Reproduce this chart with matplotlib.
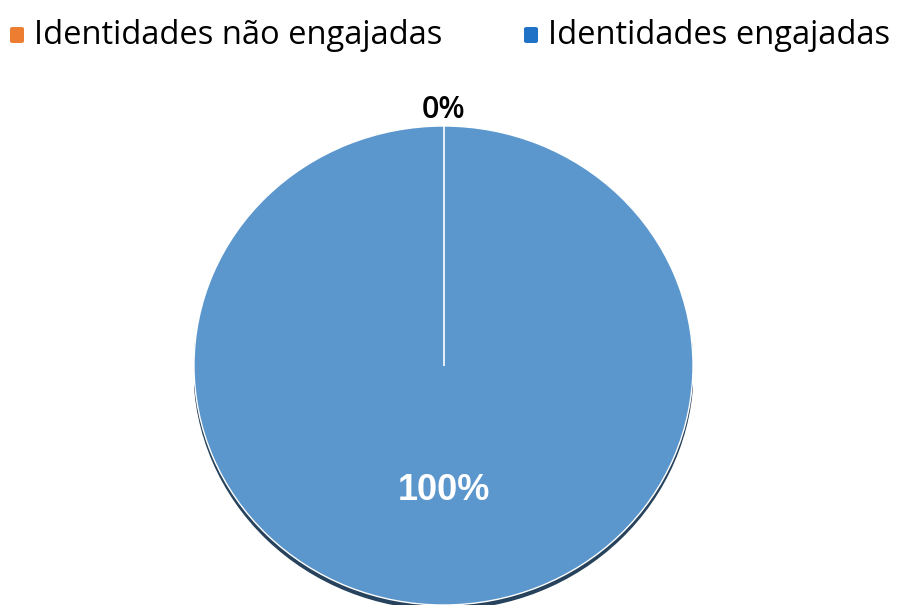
import matplotlib
matplotlib.use("Agg")
import matplotlib.pyplot as plt
import numpy as np
from matplotlib.patches import Ellipse, FancyBboxPatch

categories = ["Identidades não engajadas", "Identidades engajadas"]
values = [0, 100]
slice_colors = ["#ED7D31", "#5B97CD"]
legend_colors = ["#ED7D31", "#1F72C6"]

W, H = 898, 611
fig = plt.figure(figsize=(W / 100, H / 100), dpi=100)
cx, cy, rx, ry = 443.5, 365.5, 249.5, 239.5
ax = fig.add_axes([(cx - rx) / W, (H - cy - ry) / H, 2 * rx / W, 2 * ry / H])

# shadow
ax.add_patch(Ellipse((0, -0.018), 2.0, 2.0, color="#27425c", zorder=0))

total = sum(values)
start = 90
wedges, texts = ax.pie(values, colors=slice_colors, startangle=start, counterclock=False,
                       radius=1.0, wedgeprops=dict(edgecolor="white", linewidth=1.0),
                       normalize=True)
for w in wedges:
    w.set_zorder(1)

# wedge boundary lines (from data)
angles = start - np.cumsum([0] + values) / total * 360
for a in np.unique(np.round(angles % 360, 6)):
    t = np.deg2rad(a)
    ax.plot([0, np.cos(t)], [0, np.sin(t)], color="white", lw=1.2, zorder=2,
            solid_capstyle="butt")

ax.set_xlim(-1, 1)
ax.set_ylim(-1, 1)
ax.set_aspect("auto")
ax.axis("off")

pcts = [f"{round(v / total * 100)}%" for v in values]
fig.text(cx / W, 1 - 107 / H, pcts[0], ha="center", va="center_baseline", fontsize=22,
         fontweight="semibold", color="black", family=["Open Sans", "DejaVu Sans"],
         zorder=3)
fig.text(cx / W, 1 - 491 / H, pcts[1], ha="center", va="center", fontsize=26,
         fontweight="bold", color="white", family=["Liberation Sans", "DejaVu Sans"],
         zorder=3)

# legend
leg_pos = [(10, 36), (524, 36)]
for (lx, ly), lab, col in zip(leg_pos, categories, legend_colors):
    fig.patches.append(FancyBboxPatch(
        (lx / W, 1 - (ly + 7) / H), 14 / W, 16 / H,
        boxstyle="round,pad=0,rounding_size=0.003", transform=fig.transFigure,
        facecolor=col, edgecolor="none"))
    fig.text((lx + 24) / W, 1 - ly / H, lab, ha="left", va="center", fontsize=23.5,
             family=["Open Sans", "DejaVu Sans"], color="black")

fig.savefig("out.png", dpi=100)
